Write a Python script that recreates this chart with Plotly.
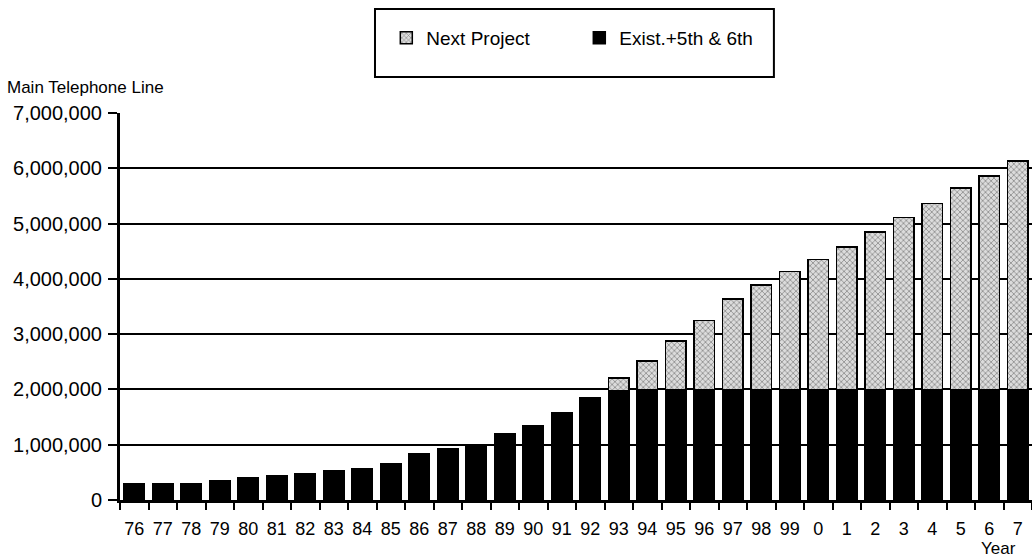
import plotly.graph_objects as go

# Fiscal years (two-digit), 1976 to 2007
years = ["76", "77", "78", "79", "80", "81", "82", "83", "84", "85", "86", "87",
         "88", "89", "90", "91", "92", "93", "94", "95", "96", "97", "98", "99",
         "0", "1", "2", "3", "4", "5", "6", "7"]

# Main telephone lines: existing plant plus 5th & 6th expansion projects
exist_5th_6th = [300000, 300000, 300000, 350000, 400000, 440000, 480000, 530000,
                 570000, 650000, 840000, 930000, 990000, 1200000, 1350000, 1580000,
                 1850000, 1970000, 2000000, 2000000, 2000000, 2000000, 2000000, 2000000,
                 2000000, 2000000, 2000000, 2000000, 2000000, 2000000, 2000000, 2000000]

# Total demand covered once the next project is added
total_lines = [None] * 17 + [2210000, 2510000, 2880000, 3250000, 3640000, 3885000,
                             4130000, 4350000, 4580000, 4850000, 5110000, 5360000,
                             5640000, 5860000, 6130000]

next_project = [None if t is None else t - e for t, e in zip(total_lines, exist_5th_6th)]

y_ticks = [0, 1000000, 2000000, 3000000, 4000000, 5000000, 6000000, 7000000]
y_tick_text = ["0", "1,000,000", "2,000,000", "3,000,000", "4,000,000",
               "5,000,000", "6,000,000", "7,000,000"]

FONT = "Liberation Sans, Arial, Helvetica, sans-serif"

fig = go.Figure()
fig.add_trace(go.Bar(
    x=years, y=exist_5th_6th, name="Exist.+5th & 6th",
    marker=dict(color="#000000", line=dict(color="#000000", width=1.5)),
))
fig.add_trace(go.Bar(
    x=years, y=next_project, name="Next Project",
    marker=dict(color="#d4d4d4", line=dict(color="#000000", width=1.5),
                pattern=dict(shape="x", fgcolor="#333333", bgcolor="#dcdcdc",
                             size=4, solidity=0.35)),
))

fig.update_layout(
    width=1032, height=559,
    margin=dict(l=120, r=0, t=113, b=59),
    paper_bgcolor="white", plot_bgcolor="white",
    barmode="stack", bargap=0.27,
    font=dict(family=FONT, size=19, color="black"),
    showlegend=True,
    legend=dict(orientation="h", traceorder="reversed",
                x=0.292, xanchor="left", y=1.194, yanchor="middle",
                bgcolor="rgba(0,0,0,0)", borderwidth=0,
                font=dict(size=19), entrywidth=148, entrywidthmode="pixels"),
    xaxis=dict(type="category", tickson="boundaries", ticks="outside", ticklen=7,
               tickwidth=2, tickcolor="black", showline=True, linecolor="black",
               linewidth=3, showgrid=False, tickfont=dict(size=18), tickangle=0,
               ticklabelstandoff=10, range=[-0.5, len(years) - 0.5]),
    yaxis=dict(range=[0, 7000000], tickvals=y_ticks, ticktext=y_tick_text,
               ticks="outside", ticklen=9, tickwidth=2, tickcolor="black",
               showline=True, linecolor="black", linewidth=3,
               showgrid=True, gridcolor="black", gridwidth=2,
               zeroline=False, tickfont=dict(size=20), ticklabelstandoff=2),
    shapes=[dict(type="rect", xref="paper", yref="paper",
                 x0=0.2796, x1=0.717, y0=1.093, y1=1.269,
                 line=dict(color="black", width=2), fillcolor="rgba(0,0,0,0)")],
    annotations=[
        dict(text="Main Telephone Line", xref="paper", yref="paper",
             x=-0.126, xanchor="left", y=1.0646, yanchor="middle",
             showarrow=False, font=dict(size=17)),
        dict(text="Year", xref="paper", yref="paper",
             x=0.9638, xanchor="center", y=-0.1266, yanchor="middle",
             showarrow=False, font=dict(size=17)),
    ],
)

fig.write_html("out.html")
